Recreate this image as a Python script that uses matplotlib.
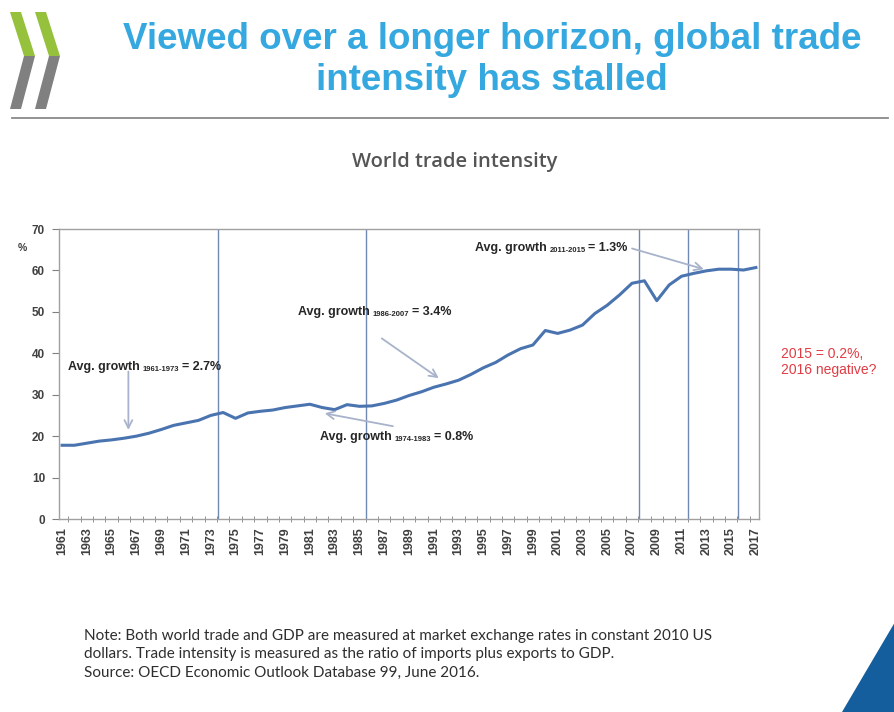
import numpy as np
import matplotlib
matplotlib.use("Agg")
import matplotlib.pyplot as plt
from matplotlib.patches import Polygon
from matplotlib.lines import Line2D
from matplotlib.offsetbox import TextArea, HPacker, AnnotationBbox

# ---------------- data ----------------
years = list(range(1961, 2018))
intensity = [17.8, 17.8, 18.3, 18.8, 19.1, 19.5, 20.0, 20.7, 21.6, 22.6,
             23.2, 23.8, 25.0, 25.7, 24.3, 25.6, 26.0, 26.3, 26.9, 27.3,
             27.7, 26.9, 26.4, 27.6, 27.2, 27.3, 27.9, 28.7, 29.8, 30.7,
             31.8, 32.6, 33.5, 34.9, 36.5, 37.8, 39.6, 41.1, 42.0, 45.5,
             44.8, 45.6, 46.8, 49.6, 51.6, 54.1, 56.9, 57.5, 52.7, 56.5,
             58.6, 59.3, 59.9, 60.3, 60.3, 60.1, 60.7]
break_years = [1973, 1985, 2007, 2011, 2015]
yticks = [0, 10, 20, 30, 40, 50, 60, 70]
xlabel_years = years[::2]

annotations = [
    # (main, subscript, value text)
    ("Avg. growth", "1961-1973", "= 2.7%"),
    ("Avg. growth", "1986-2007", "= 3.4%"),
    ("Avg. growth", "1974-1983", "= 0.8%"),
    ("Avg. growth", "2011-2015", "= 1.3%"),
]
# arrow tail / head in data coords
arrows = [
    ((1966.35, 35.6), (1966.35, 21.5)),
    ((1986.8, 43.6), (1991.4, 34.0)),
    ((1987.7, 22.4), (1982.2, 25.5)),
    ((2007.0, 65.3), (2012.8, 60.3)),
]
title = "Viewed over a longer horizon, global trade\nintensity has stalled"
subtitle = "World trade intensity"
side_note = "2015 = 0.2%,\n2016 negative?"
note = ("Note: Both world trade and GDP are measured at market exchange rates in constant 2010 US\n"
        "dollars. Trade intensity is measured as the ratio of imports plus exports to GDP.\n"
        "Source: OECD Economic Outlook Database 99, June 2016.")

# ---------------- figure ----------------
W, H = 895, 712
fig = plt.figure(figsize=(W / 100, H / 100), dpi=100)
fig.patch.set_facecolor("white")

def fx(x):
    return x / W

def fy(y):
    return 1 - y / H

SANS = ["Liberation Sans", "DejaVu Sans"]

# logo chevrons
green, grey = "#95C13D", "#808080"
for dx in (0, 25):
    fig.patches.append(Polygon([(fx(10 + dx), fy(12)), (fx(21 + dx), fy(12)),
                                (fx(35 + dx), fy(56)), (fx(24 + dx), fy(56))],
                               closed=True, transform=fig.transFigure,
                               facecolor=green, edgecolor="none"))
    fig.patches.append(Polygon([(fx(24 + dx), fy(56)), (fx(35 + dx), fy(56)),
                                (fx(21 + dx), fy(109)), (fx(10 + dx), fy(109))],
                               closed=True, transform=fig.transFigure,
                               facecolor=grey, edgecolor="none"))

# title
fig.text(fx(492), fy(60), title, ha="center", va="center", fontsize=26.5,
         fontweight="bold", color="#35A8E0", family=SANS, linespacing=1.2)

# separator
fig.add_artist(Line2D([fx(12), fx(888)], [fy(118), fy(118)],
                      transform=fig.transFigure, color="#8A8A8A", lw=1.3))

# chart subtitle
fig.text(fx(455), fy(162), subtitle, ha="center", va="center", fontsize=14.5,
         fontweight="semibold", color="#555555", family=["Open Sans", "DejaVu Sans"])

# axes
ax = fig.add_axes([fx(59), fy(519), (759 - 59) / W, (519 - 229) / H])
ax.plot(years, intensity, color="#4A74B0", lw=2.2, solid_joinstyle="round", zorder=3)
for by in break_years:
    ax.axvline(by + 0.55, color="#6F89B3", lw=1.0, zorder=2)

ax.set_xlim(1960.75, 2017.25)
ax.set_ylim(0, 70)
ax.set_yticks(yticks)
ax.set_yticklabels([str(v) for v in yticks], fontsize=8.5, fontweight="bold",
                   color="#404040", family=SANS)
ax.set_xticks(xlabel_years)
ax.set_xticklabels([str(y) for y in xlabel_years], rotation=90, fontsize=9,
                   fontweight="bold", color="#404040", family=SANS)
ax.set_xticks([y + 0.5 for y in years[:-1]], minor=True)
ax.tick_params(axis="x", which="major", length=0, pad=6)
ax.tick_params(axis="x", which="minor", length=4, color="#808080", direction="inout")
ax.tick_params(axis="y", length=5, color="#808080", direction="out", pad=5)
for s in ax.spines.values():
    s.set_color("#A0A0A0")
    s.set_linewidth(1.0)

fig.text(fx(22), fy(248), "%", ha="center", va="center", fontsize=7.5,
         fontweight="bold", color="#404040", family=SANS)

# arrows
for (tail, head) in arrows:
    ax.annotate("", xy=head, xytext=tail,
                arrowprops=dict(arrowstyle="->", color="#A8B3CB", lw=1.3,
                                mutation_scale=14, shrinkA=0, shrinkB=0),
                zorder=4)

# annotation texts (left x, center y in pixels)
ann_pos = [(68, 367), (298, 312), (320, 437), (475, 248)]
for (main, sub, val), (px, py) in zip(annotations, ann_pos):
    tp = dict(fontsize=9, fontweight="bold", color="#262626", family=SANS)
    sp = dict(fontsize=5.5, fontweight="bold", color="#262626", family=SANS)
    box = HPacker(children=[TextArea(main, textprops=tp),
                            TextArea(sub, textprops=sp),
                            TextArea(val, textprops=tp)],
                  align="bottom", pad=0, sep=2)
    ab = AnnotationBbox(box, (fx(px), fy(py)), xycoords="figure fraction",
                        box_alignment=(0, 0.5), frameon=False, pad=0)
    fig.add_artist(ab)

# side note
fig.text(fx(781), fy(362), side_note, ha="left", va="center", fontsize=10,
         color="#E03C44", family=SANS, linespacing=1.25)

# footnote
fig.text(fx(84), fy(654), note, ha="left", va="center", fontsize=11,
         color="#2E2E2E", family=["Lato", "DejaVu Sans"], linespacing=1.4)

# blue corner
fig.patches.append(Polygon([(fx(895), fy(622)), (fx(895), fy(712)), (fx(842), fy(712))],
                           closed=True, transform=fig.transFigure,
                           facecolor="#155E9E", edgecolor="none"))

fig.savefig("out.png", dpi=100)
